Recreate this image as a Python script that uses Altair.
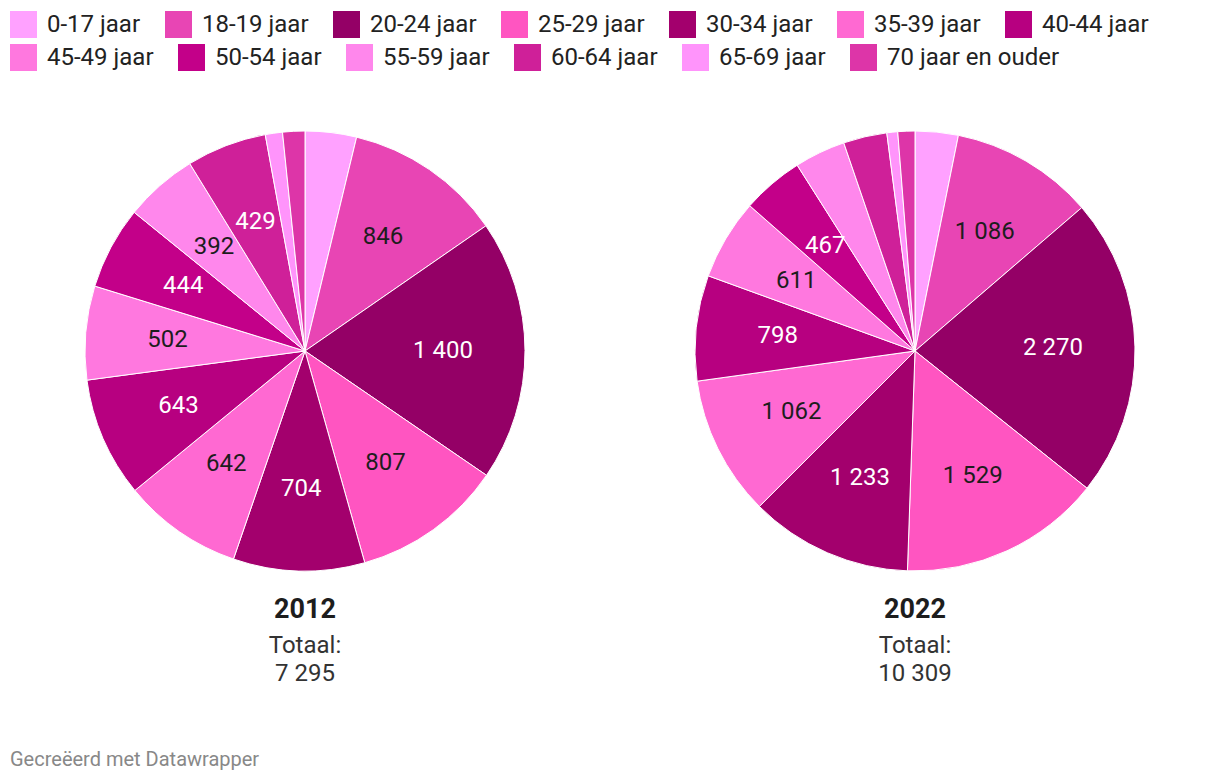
import altair as alt
import pandas as pd

groups = ["0-17 jaar", "18-19 jaar", "20-24 jaar", "25-29 jaar", "30-34 jaar",
          "35-39 jaar", "40-44 jaar", "45-49 jaar", "50-54 jaar", "55-59 jaar",
          "60-64 jaar", "65-69 jaar", "70 jaar en ouder"]
colors = ["#ffa1ff", "#e845b4", "#940066", "#ff55c1", "#a3006d", "#ff69d2", "#b70080",
          "#ff78df", "#c30089", "#ff87ec", "#cf2099", "#ff94fb", "#dd35a8"]
label_colors = ["#1d1d1d", "#1d1d1d", "#ffffff", "#1d1d1d", "#ffffff", "#1d1d1d", "#ffffff",
                "#1d1d1d", "#ffffff", "#1d1d1d", "#ffffff", "#1d1d1d", "#ffffff"]
years = ["2012", "2022"]
v2012 = [275, 846, 1400, 807, 704, 642, 643, 502, 444, 392, 429, 92, 119]
v2022 = [326, 1086, 2270, 1529, 1233, 1062, 798, 611, 467, 386, 330, 82, 129]
values = {"2012": v2012, "2022": v2022}
centers = {"2012": 297, "2022": 907}
legend_row1 = groups[:7]
legend_row2 = groups[7:]
CY = 343
R = 220
LR = 138

def fmt(n):
    return f"{n:,}".replace(",", " ")

rows = []
for y in years:
    tot = sum(values[y])
    for i, (g, v) in enumerate(zip(groups, values[y])):
        rows.append({"year": y, "group": g, "idx": i, "value": v,
                     "label": fmt(v) if v / tot >= 0.04 else "",
                     "lc": label_colors[i]})
df = pd.DataFrame(rows)

titles = pd.DataFrame({"year": years,
                       "total": [fmt(sum(values[y])) for y in years]})
leg2_df = pd.DataFrame({"group2": legend_row2})

FONT = "Roboto"
leg_common = dict(title=None, orient="none", legendX=2,
                  direction="horizontal", columns=7,
                  symbolType="square", symbolSize=729,
                  symbolStrokeWidth=0, symbolOpacity=1,
                  labelFont=FONT, labelFontSize=24, labelColor="#222222",
                  labelOffset=10, columnPadding=24, rowPadding=6,
                  labelLimit=400, padding=0)

color = alt.Color("group:N", sort=groups,
                  scale=alt.Scale(domain=groups, range=colors),
                  legend=alt.Legend(values=legend_row1, legendY=3, **leg_common))

layers = []
for y in years:
    cx = centers[y]
    base = (alt.Chart(df)
            .transform_filter(alt.datum.year == y)
            .transform_joinaggregate(tot="sum(value)")
            .transform_calculate(frac="datum.value / datum.tot"))
    theta = alt.Theta("frac:Q", stack=True, scale=alt.Scale(domain=[0, 1]))
    arcs = base.mark_arc(outerRadius=R, stroke="white", strokeWidth=1).encode(
        theta=theta, color=color, order=alt.Order("idx:Q"),
        x=alt.value(cx), y=alt.value(CY))
    labels = base.mark_text(radius=LR, font=FONT, fontSize=24, align="center",
                            baseline="middle").encode(
        theta=theta, text="label:N", order=alt.Order("idx:Q"),
        fill=alt.Fill("lc:N", scale=None), detail="idx:Q",
        x=alt.value(cx), y=alt.value(CY))
    tb = alt.Chart(titles).transform_filter(alt.datum.year == y)
    t1 = tb.mark_text(font=FONT, fontSize=27, fontWeight="bold", color="#1d1d1d",
                      align="center", baseline="middle").encode(
        text="year:N", x=alt.value(cx), y=alt.value(602))
    t2 = tb.mark_text(font=FONT, fontSize=24, color="#333333", align="center",
                      baseline="middle").encode(
        text=alt.value("Totaal:"), x=alt.value(cx), y=alt.value(638))
    t3 = tb.mark_text(font=FONT, fontSize=24, color="#333333", align="center",
                      baseline="middle").encode(
        text="total:N", x=alt.value(cx), y=alt.value(666))
    layers += [arcs, labels, t1, t2, t3]

# second legend row (same colours as the pie slices, invisible carrier marks)
legend2 = (alt.Chart(leg2_df)
           .mark_square(opacity=0, size=1)
           .encode(fill=alt.Fill("group2:N", sort=legend_row2,
                                 scale=alt.Scale(domain=legend_row2, range=colors[7:]),
                                 legend=alt.Legend(legendY=36, **leg_common)),
                   x=alt.value(0), y=alt.value(0)))
layers.append(legend2)

footer = alt.Chart(titles).transform_filter(alt.datum.year == "2012").mark_text(
    font=FONT, fontSize=20, color="#888888", align="left", baseline="middle").encode(
    text=alt.value("Gecreëerd met Datawrapper"), x=alt.value(2), y=alt.value(752))
layers.append(footer)

chart = alt.layer(*layers).properties(
    width=1204, height=768, autosize=alt.AutoSizeParams(type="none"), padding=0
).configure_view(stroke=None)

chart.save("out.html", embed_options={"renderer": "svg", "actions": False})
